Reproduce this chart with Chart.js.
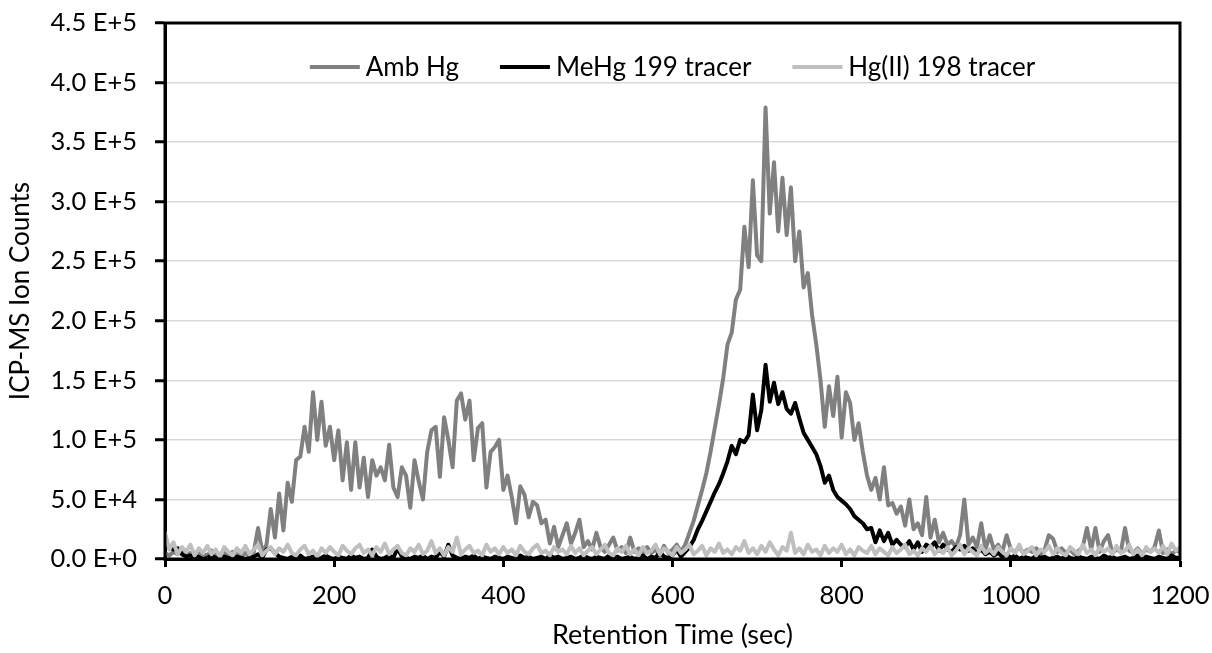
<!DOCTYPE html>
<html><head><meta charset="utf-8">
<script src="https://cdn.jsdelivr.net/npm/chart.js@4/dist/chart.umd.min.js"></script>
<style>html,body{margin:0;padding:0;background:#fff;}#wrap{width:1212px;height:653px;}</style>
</head><body><div id="wrap"><canvas id="c" width="1212" height="653"></canvas></div>
<script>
// Sampling grid (seconds)
const timeStep = 5;
const times = Array.from({length: 241}, (_, i) => i * timeStep);

// Series values in thousands of counts, one per time step (0..1200 s)
const ambHg = [
  5,3,6,4,7,3,5,2,6,4,3,7,4,2,5,3,6,4,2,5,
  3,6,26,6,12,42,18,55,24,64,48,83,86,111,90,140,100,132,95,111,
  83,108,66,98,58,98,60,85,52,83,70,77,66,96,60,52,77,70,43,83,
  65,50,90,108,111,69,119,100,77,133,139,117,133,83,110,114,60,90,94,100,
  58,70,52,30,61,54,35,48,45,30,33,13,27,10,20,30,13,22,33,10,
  15,8,22,10,6,12,18,7,10,5,18,6,9,4,10,5,8,3,11,5,
  8,12,6,12,22,32,45,58,72,90,110,130,152,180,190,218,226,279,245,318,
  255,250,379,290,333,275,320,272,312,250,275,228,240,205,180,150,111,145,120,153,
  102,140,131,100,114,90,70,58,68,50,77,45,47,38,44,28,50,25,30,20,
  52,18,33,14,22,12,15,10,20,50,12,18,10,30,8,20,8,12,6,20,
  8,6,10,5,8,6,9,4,8,20,17,6,9,5,8,4,7,10,26,8,
  26,6,15,20,5,8,6,26,7,5,9,4,8,6,10,24,5,8,4,7,
  6
];
const meHg199 = [
  12,10,8,9,4,2,3,1,2,0,1,3,1,0,2,1,0,2,1,0,
  1,2,4,1,8,9,5,2,1,0,2,1,3,0,1,2,0,1,3,1,
  0,2,1,0,3,1,2,0,1,8,2,0,1,3,1,9,2,1,0,2,
  1,3,0,2,1,6,2,12,3,1,0,2,1,3,0,2,1,0,2,1,
  0,2,1,0,3,1,2,0,1,2,0,3,1,2,0,1,2,0,1,3,
  1,0,2,1,0,3,1,2,0,1,2,0,1,3,0,2,1,6,2,1,
  3,8,2,6,10,16,25,32,40,48,56,63,72,82,95,88,100,98,104,138,
  108,125,163,132,148,130,140,126,122,131,118,106,100,94,88,78,64,70,58,52,
  49,46,42,36,33,30,25,26,14,24,15,22,12,16,12,10,15,8,14,6,
  12,10,14,7,12,8,6,10,8,11,7,9,5,8,4,6,3,5,2,4,
  1,3,0,2,1,0,3,1,2,0,1,2,0,3,1,0,2,1,0,2,
  1,0,3,1,2,0,1,2,0,1,3,0,2,1,0,2,1,0,3,1,
  1
];
const hgII198 = [
  22,8,14,4,10,6,12,3,9,5,11,4,8,2,10,6,3,9,5,11,
  4,8,12,3,7,10,4,9,6,12,5,3,8,11,4,7,2,9,5,10,
  6,3,11,7,4,9,12,5,8,3,10,6,13,4,8,11,5,3,9,6,
  12,4,7,15,5,9,3,10,6,18,4,8,11,5,7,3,12,6,9,4,
  10,5,8,3,11,6,4,9,12,5,7,3,10,6,8,4,11,5,9,3,
  7,10,4,8,12,5,3,9,6,11,4,8,3,10,5,7,12,4,9,6,
  3,10,5,8,12,4,7,11,3,9,6,13,5,8,4,10,7,15,5,9,
  4,11,6,14,8,3,10,7,22,5,9,4,12,6,8,3,11,5,9,6,
  12,4,8,3,10,7,5,11,4,9,6,3,10,5,8,12,4,7,3,9,
  6,11,4,8,5,10,3,7,12,4,9,6,3,11,5,8,4,10,6,3,
  9,5,12,4,7,10,3,8,6,11,4,9,5,3,10,7,4,12,5,8,
  3,10,6,9,4,11,5,7,12,4,8,3,10,6,9,5,11,4,13,7,
  10
];
const seriesLabels = ['Amb Hg', 'MeHg 199 tracer', 'Hg(II) 198 tracer'];
const xTicks = [0, 200, 400, 600, 800, 1000, 1200];
const yTicks = [0, 50000, 100000, 150000, 200000, 250000, 300000, 350000, 400000, 450000];
const unit = 1000;

const FONT = 'Lato';
const toPts = arr => arr.map((v, i) => ({x: times[i], y: v * unit}));

function sci(v) {
  if (v === 0) return '0.0 E+0';
  const e = Math.floor(Math.log10(v) + 1e-9);
  const m = v / Math.pow(10, e);
  return m.toFixed(1) + ' E+' + e;
}

const framePlugin = {
  id: 'frame',
  afterDatasetsDraw(chart) {
    const {ctx, chartArea: a} = chart;
    ctx.save();
    ctx.strokeStyle = '#000';
    ctx.lineWidth = 3;
    ctx.strokeRect(a.left, a.top, a.right - a.left, a.bottom - a.top);
    ctx.restore();
  }
};

const legendPlugin = {
  id: 'inlegend',
  afterDraw(chart) {
    const {ctx, chartArea: a} = chart;
    ctx.save();
    ctx.font = '26px ' + FONT;
    const sample = 50, gap = 6, spacing = 41;
    const items = chart.data.datasets.map(d => ({label: d.label, color: d.borderColor}));
    const widths = items.map(it => sample + gap + ctx.measureText(it.label).width);
    const total = widths.reduce((s, w) => s + w, 0) + spacing * (items.length - 1);
    let x = (a.left + a.right) / 2 - total / 2;
    const y = 67;
    items.forEach((it, i) => {
      ctx.strokeStyle = it.color;
      ctx.lineWidth = 4;
      ctx.beginPath();
      ctx.moveTo(x, y);
      ctx.lineTo(x + sample, y);
      ctx.stroke();
      ctx.fillStyle = '#000';
      ctx.textBaseline = 'middle';
      ctx.textAlign = 'left';
      ctx.fillText(it.label, x + sample + gap, y + 1);
      x += widths[i] + spacing;
    });
    ctx.restore();
  }
};

new Chart(document.getElementById('c'), {
  type: 'line',
  data: {
    datasets: [
      {label: seriesLabels[0], data: toPts(ambHg), borderColor: '#808080', borderWidth: 4, order: 3},
      {label: seriesLabels[1], data: toPts(meHg199), borderColor: '#000000', borderWidth: 4, order: 2},
      {label: seriesLabels[2], data: toPts(hgII198), borderColor: '#bfbfbf', borderWidth: 4, order: 1}
    ]
  },
  options: {
    responsive: false,
    animation: false,
    devicePixelRatio: 1,
    layout: {padding: {top: 23, right: 32, left: 0, bottom: 0}},
    elements: {
      point: {radius: 0},
      line: {tension: 0, borderJoinStyle: 'round', borderCapStyle: 'round', fill: false}
    },
    plugins: {legend: {display: false}, tooltip: {enabled: false}},
    scales: {
      x: {
        type: 'linear', min: 0, max: 1200,
        afterBuildTicks(s) { s.ticks = xTicks.map(v => ({value: v})); },
        ticks: {color: '#000', font: {family: FONT, size: 25.5}, padding: 13, maxRotation: 0, callback: v => String(v)},
        grid: {drawOnChartArea: false, drawTicks: true, tickLength: 8, tickWidth: 3, tickColor: '#000'},
        border: {display: true, color: '#000', width: 3},
        title: {display: true, text: 'Retention Time (sec)', color: '#000', font: {family: FONT, size: 27}, padding: {top: 0, bottom: 2}},
        afterFit(s) { s.height = 94; s.paddingLeft = 0; s.paddingRight = 0; }
      },
      y: {
        type: 'linear', min: 0, max: 450000,
        afterBuildTicks(s) { s.ticks = yTicks.map(v => ({value: v})); },
        ticks: {color: '#000', font: {family: FONT, size: 25.5}, padding: 18, callback: v => sci(v)},
        grid: {color: '#d9d9d9', lineWidth: 1.5, drawTicks: true, tickLength: 10, tickWidth: 3, tickColor: '#000'},
        border: {display: true, color: '#000', width: 3},
        title: {display: true, text: 'ICP-MS Ion Counts', color: '#000', font: {family: FONT, size: 26}, padding: {top: 5, bottom: 0}},
        afterFit(s) { s.width = 165; s.paddingTop = 0; s.paddingBottom = 0; }
      }
    }
  },
  plugins: [framePlugin, legendPlugin]
});
</script>
</body></html>
